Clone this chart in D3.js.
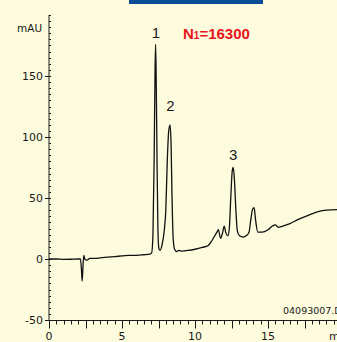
<!DOCTYPE html>
<html>
<head>
<meta charset="utf-8">
<script src="https://cdn.jsdelivr.net/npm/d3@7"></script>
<style>
  body { margin: 0; background: #fdfbdd; }
  svg { display: block; }
</style>
</head>
<body>
<svg id="chart" width="337" height="342"></svg>
<script>
// chromatogram trace: retention time (min), absorbance (mAU)
var times = [0, 0.5, 1.0, 1.5, 2.0, 2.15, 2.22, 2.27, 2.32, 2.38, 2.45, 2.6, 2.8, 3.2, 3.5, 4.0, 4.5, 5.0, 5.5, 6.0, 6.5, 6.9,
  7.03, 7.12, 7.2, 7.26, 7.3, 7.34, 7.4, 7.46, 7.52, 7.6, 7.75, 7.9, 8.0, 8.1, 8.2, 8.29, 8.36, 8.42, 8.5, 8.6, 8.75, 8.9, 9.1,
  9.5, 10.0, 10.5, 10.9, 11.1, 11.3, 11.5, 11.6, 11.75, 11.9, 12.0, 12.1, 12.25, 12.35, 12.45, 12.55, 12.62, 12.7, 12.8, 12.9,
  13.05, 13.3, 13.5, 13.7, 13.82, 13.95, 14.05, 14.15, 14.3, 14.6, 15.0, 15.3, 15.5, 15.7, 16.0, 16.5, 17.0, 17.8, 18.5, 19.0, 19.8];
var signal = [0, 0, -0.3, -0.2, 0, 0, -8, -18, -8, 3, 0, -1, 0.5, 0.5, 1, 1.5, 2, 2.5, 3, 3, 3.5, 4,
  5, 20, 80, 150, 176, 150, 80, 25, 9, 7, 12, 24, 40, 80, 105, 110, 95, 55, 18, 8, 6, 7, 6.5,
  7, 8, 9.5, 11, 14, 18, 22, 24, 17, 22, 27, 22, 19, 25, 50, 72, 75, 65, 40, 23,
  19, 18, 19, 22, 32, 41, 42, 32, 22, 22, 24, 27, 28, 26, 27, 29, 32, 36, 39, 40, 40.5];

var xLabels = [0, 5, 10, 15];
var yLabels = [-50, 0, 50, 100, 150];

// peak annotations
var peakNames = ["1", "2", "3"];
var peakTimes = [7.33, 8.29, 12.62];
var peakHeights = [176, 110, 75];

var svg = d3.select("#chart");
var W = 337, H = 342;

var x = d3.scaleLinear().domain([0, 20]).range([49, 341]);
var y = d3.scaleLinear().domain([-50, 200]).range([320, 15]);

svg.append("rect").attr("width", W).attr("height", H).attr("fill", "#fdfbdd");

// header bar cut off at top
svg.append("rect").attr("x", 129).attr("y", 0).attr("width", 134).attr("height", 4).attr("fill", "#0b4c96");

var ink = "#1a1a1a";

// y axis: line, small inner ticks every 5, outer ticks at labels
var yAxisG = svg.append("g").attr("transform", "translate(" + x(0) + ",0)");
yAxisG.append("line").attr("y1", y(200)).attr("y2", y(-50)).attr("stroke", ink);
yAxisG.selectAll(".ymin").data(d3.range(-50, 201, 5)).enter().append("line")
  .attr("x1", 0).attr("x2", 2).attr("y1", function(d){ return Math.round(y(d)) + 0.5; })
  .attr("y2", function(d){ return Math.round(y(d)) + 0.5; }).attr("stroke", ink);
yAxisG.selectAll(".ymaj").data(yLabels).enter().append("line")
  .attr("x1", -4).attr("x2", 0).attr("y1", function(d){ return Math.round(y(d)) + 0.5; })
  .attr("y2", function(d){ return Math.round(y(d)) + 0.5; }).attr("stroke", ink);
yAxisG.selectAll(".ylab").data(yLabels).enter().append("text")
  .attr("x", -6).attr("y", function(d){ return y(d) + 4; })
  .attr("text-anchor", "end").attr("font-family", "DejaVu Sans").attr("font-size", 11)
  .attr("fill", ink).text(function(d){ return d; });

// x axis: minor ticks every 0.5, longer every 2.5
var xAxisG = svg.append("g").attr("transform", "translate(0," + (y(-50) + 0.5) + ")");
xAxisG.append("line").attr("x1", x(0)).attr("x2", W).attr("stroke", ink);
xAxisG.selectAll(".xt").data(d3.range(0, 20.01, 0.5)).enter().append("line")
  .attr("x1", function(d){ return Math.round(x(d)) + 0.5; })
  .attr("x2", function(d){ return Math.round(x(d)) + 0.5; })
  .attr("y1", 0).attr("y2", function(d){ return d % 2.5 === 0 ? 8 : 4; }).attr("stroke", ink);
xAxisG.selectAll(".xlab").data(xLabels).enter().append("text")
  .attr("x", function(d){ return x(d); }).attr("y", 19)
  .attr("text-anchor", "middle").attr("font-family", "DejaVu Sans").attr("font-size", 11)
  .attr("fill", ink).text(function(d){ return d; });
xAxisG.append("text").attr("x", 329).attr("y", 19).attr("font-family", "DejaVu Sans")
  .attr("font-size", 11).attr("fill", ink).text("min");

svg.append("text").attr("x", 17).attr("y", 32).attr("font-family", "DejaVu Sans")
  .attr("font-size", 10.5).attr("fill", ink).text("mAU");

// trace
var pts = times.map(function(t, i){ return [t, signal[i]]; });
var line = d3.line().x(function(d){ return x(d[0]); }).y(function(d){ return y(d[1]); }).curve(d3.curveMonotoneX);
svg.append("path").datum(pts).attr("d", line).attr("fill", "none")
  .attr("stroke", "#111").attr("stroke-width", 1.3).attr("stroke-linejoin", "round");

// peak numbers
var labelOffset = [6, 14, 8];
svg.selectAll(".pk").data(peakNames).enter().append("text")
  .attr("x", function(d, i){ return x(peakTimes[i]) + (i === 1 ? 0.5 : 0); })
  .attr("y", function(d, i){ return y(peakHeights[i]) - labelOffset[i]; })
  .attr("text-anchor", "middle").attr("font-family", "Liberation Sans").attr("font-size", 15)
  .attr("fill", ink).text(function(d){ return d; });

// plate count
var nt = svg.append("text").attr("x", 183).attr("y", 39).attr("font-family", "Liberation Sans")
  .attr("font-weight", "bold").attr("font-size", 15).attr("fill", "#e8141c");
nt.append("tspan").text("N");
nt.append("tspan").attr("font-size", 10).text("1");
nt.append("tspan").text("=16300");

svg.append("text").attr("x", 283).attr("y", 314).attr("font-family", "DejaVu Sans")
  .attr("font-size", 9.5).attr("fill", ink).text("04093007.D");
</script>
</body>
</html>
